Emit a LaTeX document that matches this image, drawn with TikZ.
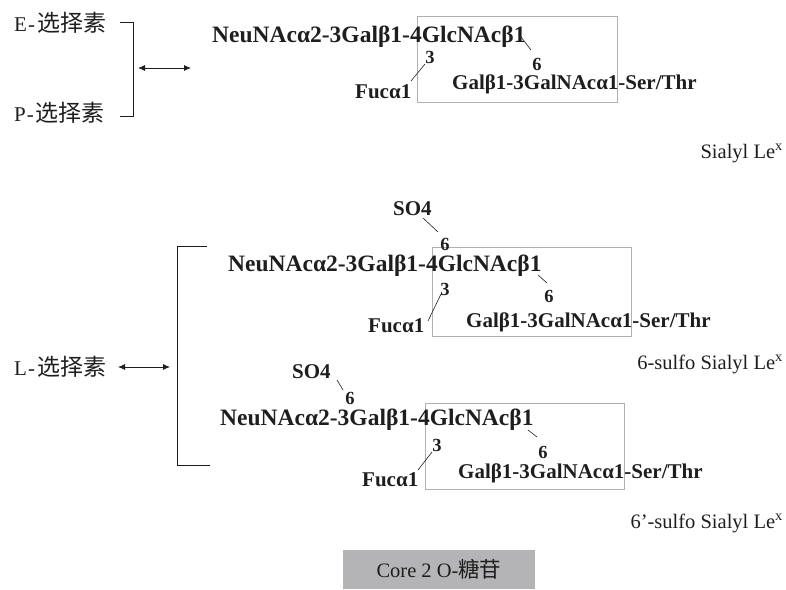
\documentclass[tikz,border=0pt]{standalone}
\usepackage{fontspec}
\setmainfont{Liberation Serif}
\newfontfamily\cjk{Noto Sans CJK SC}
\usetikzlibrary{arrows.meta}
\definecolor{ink}{HTML}{1E1E1E}
\definecolor{boxline}{HTML}{B0B0B0}
\definecolor{corefill}{HTML}{B4B4B6}
\tikzset{
  x=1pt, y=-1pt,
  chain/.style={inner sep=0pt, anchor=base west, text=ink, font=\fontsize{23.5}{23.5}\selectfont\bfseries},
  branch/.style={inner sep=0pt, anchor=base west, text=ink, font=\fontsize{21}{21}\selectfont\bfseries},
  sitenum/.style={inner sep=0pt, anchor=base, text=ink, font=\fontsize{18.5}{18.5}\selectfont\bfseries},
  tag/.style={inner sep=0pt, anchor=base east, text=ink, font=\fontsize{20.5}{20.5}\selectfont},
  selectin/.style={inner sep=0pt, anchor=west, text=ink, font=\fontsize{21}{21}\selectfont},
  link/.style={draw=ink, line width=0.6pt},
  frame/.style={draw=boxline, line width=0.8pt},
  brace/.style={draw=ink, line width=0.8pt},
  twoway/.style={draw=ink, line width=0.8pt, {Latex[length=7pt,width=6pt]}-{Latex[length=7pt,width=6pt]}}
}
\newcommand{\selname}[1]{#1\kern1pt-\kern2pt{\cjk\fontsize{23}{23}\selectfont 选择素}}
\begin{document}
\begin{tikzpicture}
\useasboundingbox (0,0) rectangle (786,589);

% ---------- selectins ----------
\node[selectin] (esel) at (14,23) {\selname{E}};
\node[selectin] (psel) at (14,113) {\selname{P}};
\node[selectin] (lsel) at (14,367) {\selname{L}};

\coordinate (b1t) at (120,22);
\coordinate (b1b) at (120,116);
\draw[brace] (b1t) -- (133,22) -- (133,116) -- (b1b);
\coordinate (a1l) at (138,68);
\coordinate (a1r) at (191,68);
\draw[twoway] (a1l) -- (a1r);

\coordinate (b2t) at (207,246);
\coordinate (b2b) at (210,465);
\draw[brace] (b2t) -- (177,246) -- (177,465) -- (b2b);
\coordinate (a2l) at (118,367);
\coordinate (a2r) at (170,367);
\draw[twoway] (a2l) -- (a2r);

% ---------- Sialyl Le^x ----------
\draw[frame] (417,16) rectangle (617,102);
\node[chain]  (neu1) at (212,42) {NeuNAcα2-3Galβ1-4GlcNAcβ1};
\node[sitenum] (p3a)  at (430,63) {3};
\node[sitenum] (p6a)  at (537,70) {6};
\node[branch] (gal1) at (452,89) {Galβ1-3GalNAcα1-Ser/Thr};
\node[branch] (fuc1) at (355,98) {Fucα1};
\coordinate (f1a) at (411,81); \coordinate (f1b) at (425,64);
\draw[link] (f1a) -- (f1b);
\coordinate (g1a) at (521,37); \coordinate (g1b) at (531,50);
\draw[link] (g1a) -- (g1b);
\node[tag] (lab1) at (783,158) {Sialyl Le\textsuperscript{x}};

% ---------- 6-sulfo Sialyl Le^x ----------
\draw[frame] (432,247) rectangle (631,336);
\node[branch] (so2)  at (393,215) {SO4};
\node[sitenum] (p6b)  at (445,250) {6};
\node[chain]  (neu2) at (228,271) {NeuNAcα2-3Galβ1-4GlcNAcβ1};
\node[sitenum] (p3b)  at (445,295) {3};
\node[sitenum] (p6c)  at (549,302) {6};
\node[branch] (gal2) at (466,327) {Galβ1-3GalNAcα1-Ser/Thr};
\node[branch] (fuc2) at (368,332) {Fucα1};
\coordinate (s2a) at (423,218); \coordinate (s2b) at (438,232);
\draw[link] (s2a) -- (s2b);
\coordinate (f2a) at (428,321); \coordinate (f2b) at (441,294);
\draw[link] (f2a) -- (f2b);
\coordinate (g2a) at (538,275); \coordinate (g2b) at (547,283);
\draw[link] (g2a) -- (g2b);
\node[tag] (lab2) at (783,369) {6-sulfo Sialyl Le\textsuperscript{x}};

% ---------- 6'-sulfo Sialyl Le^x ----------
\draw[frame] (425,403) rectangle (624,489);
\node[branch] (so3)  at (292,378) {SO4};
\node[sitenum] (p6d)  at (350,404) {6};
\node[chain]  (neu3) at (220,425) {NeuNAcα2-3Galβ1-4GlcNAcβ1};
\node[sitenum] (p3c)  at (437,451) {3};
\node[sitenum] (p6e)  at (543,458) {6};
\node[branch] (gal3) at (458,478) {Galβ1-3GalNAcα1-Ser/Thr};
\node[branch] (fuc3) at (362,486) {Fucα1};
\coordinate (s3a) at (337,380); \coordinate (s3b) at (343,390);
\draw[link] (s3a) -- (s3b);
\coordinate (f3a) at (418,470); \coordinate (f3b) at (432,452);
\draw[link] (f3a) -- (f3b);
\coordinate (g3a) at (528,430); \coordinate (g3b) at (537,437);
\draw[link] (g3a) -- (g3b);
\node[tag] (lab3) at (783,528) {6’-sulfo Sialyl Le\textsuperscript{x}};

% ---------- core 2 label ----------
\node[fill=corefill, minimum width=192pt, minimum height=39pt, inner sep=0pt,
      text=ink, font=\fontsize{20.5}{20.5}\selectfont] (core) at (439,569.5)
      {Core 2 O-{\cjk\fontsize{21.5}{21.5}\selectfont 糖苷}};
\end{tikzpicture}
\end{document}
